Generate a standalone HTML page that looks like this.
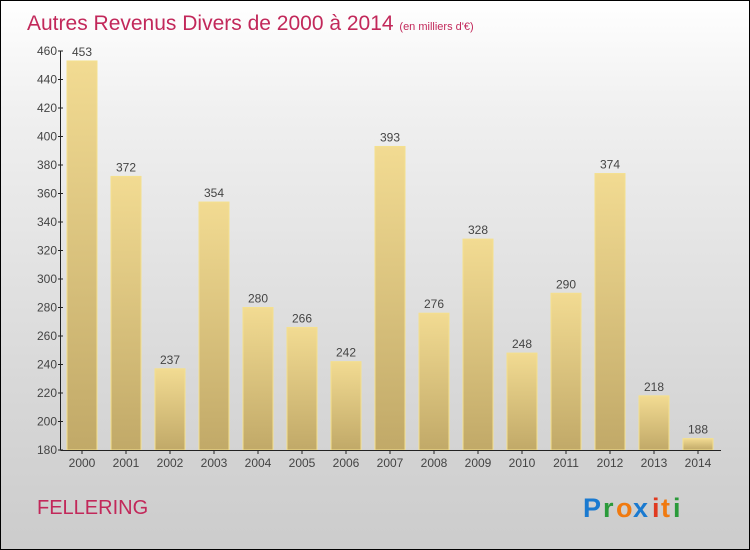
<!DOCTYPE html>
<html><head><meta charset="utf-8"><style>
body{margin:0;}
#c{width:750px;height:550px;position:relative;box-sizing:border-box;border:1px solid #000;background:linear-gradient(#ffffff,#f0f0f0 20%,#d8d8d8 70%,#cccccc);font-family:"Liberation Sans",sans-serif;overflow:hidden}
</style></head><body>
<div id="c">
<svg width="748" height="548" style="position:absolute;left:0;top:0" id="svg">
<defs><linearGradient id="bg" x1="0" y1="0" x2="0" y2="1"><stop offset="0" stop-color="#f2db92"/><stop offset="1" stop-color="#c1a968"/></linearGradient></defs>
<text x="26" y="29" font-size="21" fill="#c2285a">Autres Revenus Divers de 2000 à 2014 <tspan font-size="11">(en milliers d'€)</tspan></text>
<text x="36" y="513" font-size="20" fill="#c2285a">FELLERING</text>
<g font-size="27" font-weight="bold">
<text x="582" y="516" fill="#1a7ad0">P</text><text x="602" y="516" fill="#2a9a3a">r</text><text x="615" y="516" fill="#f07a10">o</text><text x="632" y="516" fill="#1a7ad0">x</text><text x="651" y="516" fill="#e03a20">i</text><text x="660" y="516" fill="#f07a10">t</text><text x="672" y="516" fill="#2a9a3a">i</text></g>
<g id="g"></g>
</svg></div>
<script>
const years=["2000","2001","2002","2003","2004","2005","2006","2007","2008","2009","2010","2011","2012","2013","2014"];
const values=[453,372,237,354,280,266,242,393,276,328,248,290,374,218,188];
const ticks=[180,200,220,240,260,280,300,320,340,360,380,400,420,440,460];
const y0=180,y1=460,py0=449,py1=50;
function Y(v){return py0-(v-y0)*(py0-py1)/(y1-y0);}
function X(i){return 66+44*i;}
const g=document.getElementById('g'),NS="http://www.w3.org/2000/svg";
function mk(t,a,txt){const e=document.createElementNS(NS,t);for(const k in a)e.setAttribute(k,a[k]);if(txt!=null)e.textContent=txt;g.appendChild(e);return e;}
values.forEach((v,i)=>{
 const r=mk('rect',{x:X(i),y:Y(v),width:30,height:py0-Y(v),fill:'url(#bg)',stroke:'#f4e08e','stroke-width':1});
 
 
 const t=mk('text',{x:X(i)+15,y:Y(v)-5,'text-anchor':'middle','font-size':12,fill:'#444'},v);
 
 
 const xl=mk('text',{x:X(i)+15,y:466,'text-anchor':'middle','font-size':12,fill:'#444'},years[i]);
 
 
 mk('line',{x1:X(i)+15,x2:X(i)+15,y1:py0,y2:py0+4,stroke:'#222'});
});
ticks.forEach(t=>{
 mk('line',{x1:57,x2:62,y1:Y(t),y2:Y(t),stroke:'#222'});
 const l=mk('text',{x:56,y:Y(t)+4,'text-anchor':'end','font-size':12,fill:'#444'},t);
 
 
});
const ya=mk('line',{x1:59.5,x2:59.5,y1:py1,y2:py0+0.5,stroke:'#222'});


const xa=mk('line',{x1:59.5,x2:720,y1:py0+0.5,y2:py0+0.5,stroke:'#222'});


</script>
</body></html>
